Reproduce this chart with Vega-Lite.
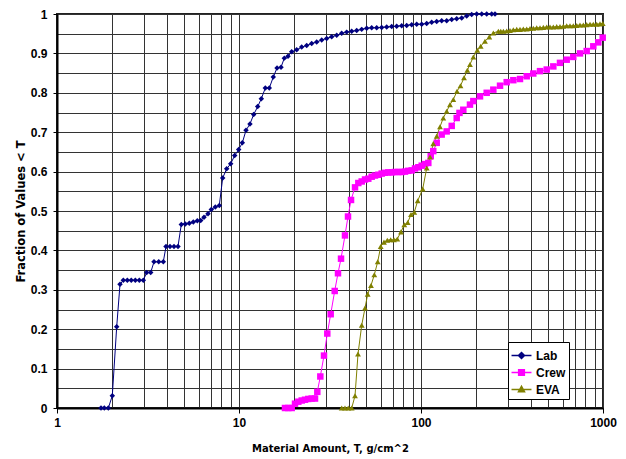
{
  "$schema": "https://vega.github.io/schema/vega-lite/v6.json",
  "width": 546,
  "height": 394,
  "autosize": "none",
  "padding": {"left": 57, "top": 14, "right": 23, "bottom": 51},
  "background": "#ffffff",
  "config": {
    "font": "Liberation Sans",
    "view": {"stroke": "#222222", "strokeWidth": 2},
    "axis": {
      "labelFont": "Liberation Sans",
      "labelFontWeight": "bold",
      "labelFontSize": 12,
      "labelColor": "#000000",
      "titleFont": "DejaVu Sans",
      "titleFontWeight": "bold",
      "titleFontSize": 11,
      "titleColor": "#000000",
      "gridColor": "#333333",
      "gridWidth": 1,
      "gridOpacity": 1,
      "domainColor": "#000000",
      "domainWidth": 2,
      "tickColor": "#000000",
      "tickWidth": 1
    },
    "legend": {
      "title": null,
      "orient": "none",
      "legendX": 451,
      "legendY": 328,
      "symbolSize": 361,
      "symbolStrokeWidth": 1.5,
      "symbolOpacity": 1,
      "labelFont": "Liberation Sans",
      "labelFontSize": 12,
      "labelFontWeight": "bold",
      "labelColor": "#000000",
      "labelOffset": 4,
      "rowPadding": 0,
      "padding": 3,
      "strokeColor": "#000000",
      "fillColor": "#ffffff"
    }
  },
  "datasets": {
    "cdf": [
      {"s": "Lab", "x": 1.745, "y": 0}, {"s": "Lab", "x": 1.819, "y": 0}, {"s": "Lab", "x": 1.914, "y": 0},
      {"s": "Lab", "x": 2.013, "y": 0.031}, {"s": "Lab", "x": 2.128, "y": 0.206}, {"s": "Lab", "x": 2.219, "y": 0.314},
      {"s": "Lab", "x": 2.314, "y": 0.324}, {"s": "Lab", "x": 2.434, "y": 0.324}, {"s": "Lab", "x": 2.559, "y": 0.324},
      {"s": "Lab", "x": 2.693, "y": 0.324}, {"s": "Lab", "x": 2.833, "y": 0.324}, {"s": "Lab", "x": 2.98, "y": 0.324},
      {"s": "Lab", "x": 3.111, "y": 0.344}, {"s": "Lab", "x": 3.272, "y": 0.344}, {"s": "Lab", "x": 3.412, "y": 0.371},
      {"s": "Lab", "x": 3.622, "y": 0.371}, {"s": "Lab", "x": 3.838, "y": 0.371}, {"s": "Lab", "x": 3.971, "y": 0.41},
      {"s": "Lab", "x": 4.178, "y": 0.41}, {"s": "Lab", "x": 4.395, "y": 0.41}, {"s": "Lab", "x": 4.622, "y": 0.41},
      {"s": "Lab", "x": 4.819, "y": 0.466}, {"s": "Lab", "x": 5.069, "y": 0.467}, {"s": "Lab", "x": 5.333, "y": 0.469},
      {"s": "Lab", "x": 5.61, "y": 0.472}, {"s": "Lab", "x": 5.901, "y": 0.475}, {"s": "Lab", "x": 6.16, "y": 0.476},
      {"s": "Lab", "x": 6.423, "y": 0.484}, {"s": "Lab", "x": 6.756, "y": 0.493}, {"s": "Lab", "x": 7.044, "y": 0.504},
      {"s": "Lab", "x": 7.409, "y": 0.51}, {"s": "Lab", "x": 7.794, "y": 0.514}, {"s": "Lab", "x": 8.136, "y": 0.584},
      {"s": "Lab", "x": 8.558, "y": 0.607}, {"s": "Lab", "x": 9.004, "y": 0.62}, {"s": "Lab", "x": 9.471, "y": 0.641},
      {"s": "Lab", "x": 9.963, "y": 0.656}, {"s": "Lab", "x": 10.43, "y": 0.673}, {"s": "Lab", "x": 10.93, "y": 0.705},
      {"s": "Lab", "x": 11.49, "y": 0.721}, {"s": "Lab", "x": 12.04, "y": 0.745}, {"s": "Lab", "x": 12.67, "y": 0.765},
      {"s": "Lab", "x": 13.26, "y": 0.785}, {"s": "Lab", "x": 13.95, "y": 0.812}, {"s": "Lab", "x": 14.67, "y": 0.812},
      {"s": "Lab", "x": 15.43, "y": 0.84}, {"s": "Lab", "x": 16.18, "y": 0.863}, {"s": "Lab", "x": 17.02, "y": 0.865},
      {"s": "Lab", "x": 17.74, "y": 0.888}, {"s": "Lab", "x": 18.59, "y": 0.893}, {"s": "Lab", "x": 19.48, "y": 0.904},
      {"s": "Lab", "x": 20.75, "y": 0.909}, {"s": "Lab", "x": 22.11, "y": 0.916}, {"s": "Lab", "x": 23.55, "y": 0.92},
      {"s": "Lab", "x": 25.08, "y": 0.925}, {"s": "Lab", "x": 26.73, "y": 0.929}, {"s": "Lab", "x": 28.48, "y": 0.934},
      {"s": "Lab", "x": 30.33, "y": 0.938}, {"s": "Lab", "x": 32.31, "y": 0.942}, {"s": "Lab", "x": 34.43, "y": 0.946},
      {"s": "Lab", "x": 36.67, "y": 0.951}, {"s": "Lab", "x": 39.06, "y": 0.954}, {"s": "Lab", "x": 41.62, "y": 0.956},
      {"s": "Lab", "x": 44.33, "y": 0.958}, {"s": "Lab", "x": 47.23, "y": 0.961}, {"s": "Lab", "x": 50.3, "y": 0.964},
      {"s": "Lab", "x": 53.59, "y": 0.965}, {"s": "Lab", "x": 57.09, "y": 0.965}, {"s": "Lab", "x": 60.82, "y": 0.966},
      {"s": "Lab", "x": 64.79, "y": 0.967}, {"s": "Lab", "x": 69.02, "y": 0.968}, {"s": "Lab", "x": 73.53, "y": 0.969},
      {"s": "Lab", "x": 78.34, "y": 0.97}, {"s": "Lab", "x": 83.44, "y": 0.971}, {"s": "Lab", "x": 88.89, "y": 0.973},
      {"s": "Lab", "x": 94.71, "y": 0.974}, {"s": "Lab", "x": 100.9, "y": 0.974}, {"s": "Lab", "x": 107.5, "y": 0.976},
      {"s": "Lab", "x": 114.5, "y": 0.979}, {"s": "Lab", "x": 122, "y": 0.981}, {"s": "Lab", "x": 129.9, "y": 0.983},
      {"s": "Lab", "x": 138.4, "y": 0.983}, {"s": "Lab", "x": 147.5, "y": 0.986}, {"s": "Lab", "x": 157.1, "y": 0.988},
      {"s": "Lab", "x": 167.3, "y": 0.99}, {"s": "Lab", "x": 178.3, "y": 0.995}, {"s": "Lab", "x": 189.9, "y": 0.999},
      {"s": "Lab", "x": 202.3, "y": 1}, {"s": "Lab", "x": 215.6, "y": 1}, {"s": "Lab", "x": 229.6, "y": 1},
      {"s": "Lab", "x": 244.6, "y": 1}, {"s": "Lab", "x": 255.1, "y": 1},

      {"s": "Crew", "x": 17.89, "y": 0}, {"s": "Crew", "x": 18.66, "y": 0}, {"s": "Crew", "x": 19.48, "y": 0},
      {"s": "Crew", "x": 20.31, "y": 0.011}, {"s": "Crew", "x": 21.18, "y": 0.016}, {"s": "Crew", "x": 22.11, "y": 0.019},
      {"s": "Crew", "x": 23.05, "y": 0.021}, {"s": "Crew", "x": 24.03, "y": 0.023}, {"s": "Crew", "x": 25.08, "y": 0.024},
      {"s": "Crew", "x": 26.16, "y": 0.024}, {"s": "Crew", "x": 26.93, "y": 0.041}, {"s": "Crew", "x": 27.98, "y": 0.08},
      {"s": "Crew", "x": 29.31, "y": 0.133}, {"s": "Crew", "x": 30.56, "y": 0.189}, {"s": "Crew", "x": 31.9, "y": 0.238},
      {"s": "Crew", "x": 33.56, "y": 0.297}, {"s": "Crew", "x": 34.99, "y": 0.342}, {"s": "Crew", "x": 36.35, "y": 0.379},
      {"s": "Crew", "x": 38.22, "y": 0.438}, {"s": "Crew", "x": 39.71, "y": 0.486}, {"s": "Crew", "x": 41.26, "y": 0.528},
      {"s": "Crew", "x": 43.4, "y": 0.56}, {"s": "Crew", "x": 45.25, "y": 0.571}, {"s": "Crew", "x": 47.23, "y": 0.575},
      {"s": "Crew", "x": 49.25, "y": 0.58}, {"s": "Crew", "x": 51.34, "y": 0.582}, {"s": "Crew", "x": 53.59, "y": 0.587},
      {"s": "Crew", "x": 55.88, "y": 0.59}, {"s": "Crew", "x": 58.27, "y": 0.592}, {"s": "Crew", "x": 60.82, "y": 0.595},
      {"s": "Crew", "x": 63.41, "y": 0.597}, {"s": "Crew", "x": 66.12, "y": 0.598}, {"s": "Crew", "x": 69.02, "y": 0.598},
      {"s": "Crew", "x": 71.96, "y": 0.599}, {"s": "Crew", "x": 75.04, "y": 0.599}, {"s": "Crew", "x": 78.34, "y": 0.599},
      {"s": "Crew", "x": 81.68, "y": 0.6}, {"s": "Crew", "x": 85.17, "y": 0.602}, {"s": "Crew", "x": 88.89, "y": 0.603},
      {"s": "Crew", "x": 92.69, "y": 0.608}, {"s": "Crew", "x": 96.65, "y": 0.611}, {"s": "Crew", "x": 100.9, "y": 0.615},
      {"s": "Crew", "x": 105.2, "y": 0.619}, {"s": "Crew", "x": 109.7, "y": 0.622}, {"s": "Crew", "x": 113.1, "y": 0.639},
      {"s": "Crew", "x": 116.8, "y": 0.652}, {"s": "Crew", "x": 122, "y": 0.673}, {"s": "Crew", "x": 129.9, "y": 0.694},
      {"s": "Crew", "x": 138.4, "y": 0.702}, {"s": "Crew", "x": 147.5, "y": 0.716}, {"s": "Crew", "x": 157.1, "y": 0.736},
      {"s": "Crew", "x": 162.7, "y": 0.749}, {"s": "Crew", "x": 170.8, "y": 0.757}, {"s": "Crew", "x": 185.8, "y": 0.77},
      {"s": "Crew", "x": 193.9, "y": 0.779}, {"s": "Crew", "x": 211, "y": 0.791}, {"s": "Crew", "x": 229.6, "y": 0.8},
      {"s": "Crew", "x": 249.7, "y": 0.808}, {"s": "Crew", "x": 271.8, "y": 0.818}, {"s": "Crew", "x": 295.7, "y": 0.827},
      {"s": "Crew", "x": 321.6, "y": 0.832}, {"s": "Crew", "x": 349.9, "y": 0.835}, {"s": "Crew", "x": 380.9, "y": 0.842},
      {"s": "Crew", "x": 414, "y": 0.849}, {"s": "Crew", "x": 450.7, "y": 0.855}, {"s": "Crew", "x": 490.6, "y": 0.859},
      {"s": "Crew", "x": 533.4, "y": 0.867}, {"s": "Crew", "x": 580.3, "y": 0.876}, {"s": "Crew", "x": 631.7, "y": 0.884},
      {"s": "Crew", "x": 686.7, "y": 0.891}, {"s": "Crew", "x": 747.4, "y": 0.9}, {"s": "Crew", "x": 813.5, "y": 0.906},
      {"s": "Crew", "x": 884.6, "y": 0.918}, {"s": "Crew", "x": 942.3, "y": 0.928}, {"s": "Crew", "x": 996.3, "y": 0.94},

      {"s": "EVA", "x": 36.67, "y": 0}, {"s": "EVA", "x": 38.22, "y": 0}, {"s": "EVA", "x": 39.85, "y": 0},
      {"s": "EVA", "x": 41.62, "y": 0}, {"s": "EVA", "x": 43.4, "y": 0.031}, {"s": "EVA", "x": 45.07, "y": 0.137},
      {"s": "EVA", "x": 47.23, "y": 0.21}, {"s": "EVA", "x": 49.25, "y": 0.254}, {"s": "EVA", "x": 50.94, "y": 0.289},
      {"s": "EVA", "x": 53.12, "y": 0.311}, {"s": "EVA", "x": 55.39, "y": 0.338}, {"s": "EVA", "x": 57.82, "y": 0.371},
      {"s": "EVA", "x": 60.06, "y": 0.41}, {"s": "EVA", "x": 62.61, "y": 0.421}, {"s": "EVA", "x": 65.29, "y": 0.426},
      {"s": "EVA", "x": 68.16, "y": 0.427}, {"s": "EVA", "x": 71.06, "y": 0.427}, {"s": "EVA", "x": 74.09, "y": 0.429},
      {"s": "EVA", "x": 77.64, "y": 0.447}, {"s": "EVA", "x": 80.95, "y": 0.465}, {"s": "EVA", "x": 84.52, "y": 0.471},
      {"s": "EVA", "x": 88.11, "y": 0.491}, {"s": "EVA", "x": 91.88, "y": 0.497}, {"s": "EVA", "x": 95.92, "y": 0.526},
      {"s": "EVA", "x": 102.2, "y": 0.556}, {"s": "EVA", "x": 107.5, "y": 0.609}, {"s": "EVA", "x": 112.1, "y": 0.637},
      {"s": "EVA", "x": 116.8, "y": 0.671}, {"s": "EVA", "x": 122, "y": 0.69}, {"s": "EVA", "x": 127.2, "y": 0.714},
      {"s": "EVA", "x": 132.6, "y": 0.736}, {"s": "EVA", "x": 138.4, "y": 0.753}, {"s": "EVA", "x": 144.3, "y": 0.77},
      {"s": "EVA", "x": 150.5, "y": 0.783}, {"s": "EVA", "x": 157.7, "y": 0.804}, {"s": "EVA", "x": 164.8, "y": 0.818},
      {"s": "EVA", "x": 172.3, "y": 0.838}, {"s": "EVA", "x": 179.7, "y": 0.857}, {"s": "EVA", "x": 185.8, "y": 0.872},
      {"s": "EVA", "x": 193.9, "y": 0.891}, {"s": "EVA", "x": 203.9, "y": 0.908}, {"s": "EVA", "x": 212.8, "y": 0.918},
      {"s": "EVA", "x": 224.7, "y": 0.931}, {"s": "EVA", "x": 237.3, "y": 0.942}, {"s": "EVA", "x": 249.7, "y": 0.952},
      {"s": "EVA", "x": 266, "y": 0.956}, {"s": "EVA", "x": 274.3, "y": 0.956}, {"s": "EVA", "x": 283.4, "y": 0.956},
      {"s": "EVA", "x": 295.7, "y": 0.957}, {"s": "EVA", "x": 308.3, "y": 0.958}, {"s": "EVA", "x": 321.6, "y": 0.96},
      {"s": "EVA", "x": 335.7, "y": 0.961}, {"s": "EVA", "x": 349.9, "y": 0.961}, {"s": "EVA", "x": 364.9, "y": 0.962},
      {"s": "EVA", "x": 380.9, "y": 0.962}, {"s": "EVA", "x": 397.2, "y": 0.963}, {"s": "EVA", "x": 414, "y": 0.964},
      {"s": "EVA", "x": 432.2, "y": 0.965}, {"s": "EVA", "x": 450.7, "y": 0.965}, {"s": "EVA", "x": 469.9, "y": 0.966},
      {"s": "EVA", "x": 490.6, "y": 0.967}, {"s": "EVA", "x": 511.5, "y": 0.967}, {"s": "EVA", "x": 533.4, "y": 0.967},
      {"s": "EVA", "x": 556.7, "y": 0.968}, {"s": "EVA", "x": 580.3, "y": 0.968}, {"s": "EVA", "x": 605.3, "y": 0.969},
      {"s": "EVA", "x": 631.7, "y": 0.97}, {"s": "EVA", "x": 658.8, "y": 0.97}, {"s": "EVA", "x": 686.7, "y": 0.97},
      {"s": "EVA", "x": 717, "y": 0.971}, {"s": "EVA", "x": 747.4, "y": 0.972}, {"s": "EVA", "x": 779.7, "y": 0.972},
      {"s": "EVA", "x": 813.5, "y": 0.973}, {"s": "EVA", "x": 848.5, "y": 0.974}, {"s": "EVA", "x": 884.6, "y": 0.974},
      {"s": "EVA", "x": 923.6, "y": 0.974}, {"s": "EVA", "x": 962.7, "y": 0.975}, {"s": "EVA", "x": 996.3, "y": 0.976}
    ]
  },
  "data": {"name": "cdf"},
  "encoding": {
    "x": {
      "field": "x",
      "type": "quantitative",
      "scale": {"type": "log", "domain": [1, 1000], "nice": false},
      "axis": {
        "title": "Material Amount, T, g/cm^2",
        "titleFontSize": 10,
        "values": [1, 2, 3, 4, 5, 6, 7, 8, 9, 10, 20, 30, 40, 50, 60, 70, 80, 90, 100, 200, 300, 400, 500, 600, 700, 800, 900, 1000],
        "format": "d",
        "labelExpr": "(datum.value == 1 || datum.value == 10 || datum.value == 100 || datum.value == 1000) ? datum.label : ''",
        "labelOverlap": false,
        "labelFlush": false,
        "tickSize": 5,
        "tickOpacity": {"condition": {"test": "datum.value == 1 || datum.value == 10 || datum.value == 100 || datum.value == 1000", "value": 1}, "value": 0},
        "labelPadding": 4,
        "titlePadding": 15,
        "grid": true
      }
    },
    "y": {
      "field": "y",
      "type": "quantitative",
      "scale": {"domain": [0, 1], "nice": false},
      "axis": {
        "title": "Fraction of Values < T",
        "titleFontSize": 11.5,
        "values": [0, 0.05, 0.1, 0.15, 0.2, 0.25, 0.3, 0.35, 0.4, 0.45, 0.5, 0.55, 0.6, 0.65, 0.7, 0.75, 0.8, 0.85, 0.9, 0.95, 1],
        "format": "~g",
        "labelExpr": "round(datum.value * 20) % 2 == 0 ? datum.label : ''",
        "tickOpacity": {"condition": {"test": "round(datum.value * 20) % 2 == 0", "value": 1}, "value": 0},
        "tickSize": 4,
        "labelPadding": 6,
        "titlePadding": 4,
        "grid": true
      }
    }
  },
  "layer": [
    {
      "mark": {"type": "line", "strokeWidth": 1},
      "encoding": {
        "color": {
          "field": "s",
          "type": "nominal",
          "scale": {"domain": ["Lab", "Crew", "EVA"], "range": ["#000080", "#ff00ff", "#808000"]},
          "legend": null
        }
      }
    },
    {
      "mark": {"type": "point", "filled": true, "opacity": 1},
      "encoding": {
        "color": {
          "field": "s",
          "type": "nominal",
          "scale": {"domain": ["Lab", "Crew", "EVA"], "range": ["#000080", "#ff00ff", "#808000"]},
          "legend": null
        },
        "shape": {
          "field": "s",
          "type": "nominal",
          "scale": {"domain": ["Lab", "Crew", "EVA"], "range": ["diamond", "square", "triangle-up"]},
          "legend": null
        },
        "size": {
          "field": "s",
          "type": "nominal",
          "scale": {"type": "ordinal", "domain": ["Lab", "Crew", "EVA"], "range": [30, 42, 34]},
          "legend": null
        }
      }
    },
    {
      "transform": [{"filter": "datum.x < 0"}],
      "mark": {"type": "point", "filled": false, "strokeWidth": 1.5},
      "encoding": {
        "color": {
          "field": "s",
          "type": "nominal",
          "scale": {"domain": ["Lab", "Crew", "EVA"], "range": ["#000080", "#ff00ff", "#808000"]},
          "legend": {}
        },
        "shape": {
          "field": "s",
          "type": "nominal",
          "scale": {
            "domain": ["Lab", "Crew", "EVA"],
            "range": [
              "M-1.05,0L1.05,0M0,-0.32L0.32,0L0,0.32L-0.32,0ZM0,-0.16L0.16,0L0,0.16L-0.16,0Z",
              "M-1.05,0L1.05,0M-0.3,-0.3L0.3,-0.3L0.3,0.3L-0.3,0.3ZM-0.15,-0.15L0.15,-0.15L0.15,0.15L-0.15,0.15Z",
              "M-1.05,0L1.05,0M0,-0.34L0.32,0.24L-0.32,0.24ZM0,-0.15L0.15,0.12L-0.15,0.12Z"
            ]
          },
          "legend": {}
        }
      }
    }
  ],
  "resolve": {"scale": {"shape": "independent", "color": "independent"}}
}
